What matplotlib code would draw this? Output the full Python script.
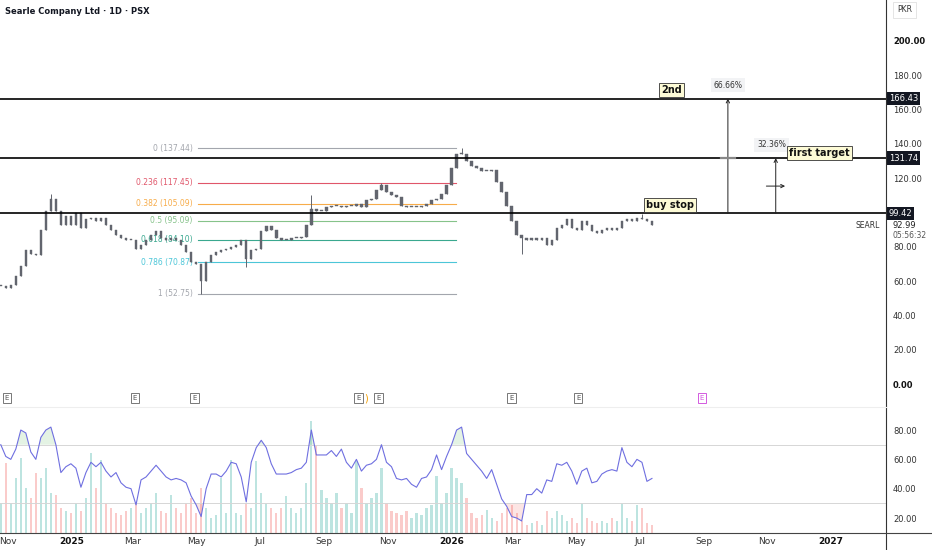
import numpy as np
import pandas as pd
import matplotlib
matplotlib.use('Agg')
import matplotlib.pyplot as plt
from matplotlib.transforms import blended_transform_factory

plt.rcParams['font.family'] = ['DejaVu Sans']

# price closes (roughly one value every ~5 days)
closes = [57, 56, 58, 63, 69, 78, 76, 75, 90, 101,
          108, 101, 93, 98, 93, 100, 91, 96, 97, 95,
          97, 93, 90, 87, 85, 84, 84, 79, 81, 84,
          87, 89, 85, 84, 85, 84, 81, 77, 71, 70,
          60, 71, 75, 77, 78, 79, 80, 81, 84, 73,
          78, 79, 89, 92, 90, 85, 84, 84, 85, 85,
          86, 93, 102, 101, 101, 103, 104, 104, 103, 104,
          104, 105, 103, 107, 108, 113, 116, 112, 110, 109,
          104, 103, 103, 103, 104, 105, 107, 108, 111, 116,
          126, 134, 134, 130, 127, 126, 124, 124, 125, 118,
          112, 104, 95, 87, 85, 84, 85, 84, 85, 81,
          84, 91, 93, 96, 91, 90, 95, 93, 89, 88,
          90, 91, 90, 91, 95, 96, 95, 97, 96, 95,
          93]
dates = pd.date_range('2024-10-25', '2026-07-13', periods=len(closes))
last_price = 92.99
last_time = '05:56:32'

# extreme wicks visible on the chart
wick_idx = [10, 40, 49, 62, 76, 92, 104, 128]
wick_val = [111, 52.75, 68, 110, 117.45, 137.44, 76, 99]

volume_k = [30, 70, 30, 55, 75, 45, 35, 60, 55, 65,
            40, 38, 25, 22, 20, 30, 22, 35, 80, 45,
            73, 30, 25, 20, 18, 22, 25, 30, 20, 25,
            30, 40, 22, 20, 38, 25, 20, 30, 35, 20,
            45, 25, 15, 18, 55, 20, 73, 20, 18, 30,
            25, 72, 40, 30, 25, 20, 25, 37, 25, 20,
            25, 50, 113, 87, 43, 35, 30, 40, 25, 30,
            20, 72, 45, 30, 35, 40, 65, 30, 22, 20,
            18, 22, 15, 20, 18, 25, 28, 57, 30, 40,
            65, 55, 50, 35, 20, 15, 18, 23, 15, 12,
            20, 25, 28, 20, 12, 8, 10, 12, 8, 22,
            15, 22, 18, 12, 15, 10, 29, 15, 12, 10,
            12, 10, 15, 12, 29, 15, 12, 28, 25, 10,
            8]

rsi = [70, 62, 60, 67, 80, 78, 65, 60, 75, 80,
       82, 70, 51, 55, 57, 54, 41, 51, 58, 55,
       58, 52, 48, 51, 44, 41, 40, 29, 46, 48,
       52, 56, 52, 48, 46, 47, 46, 44, 35, 29,
       21, 40, 50, 50, 48, 52, 58, 57, 48, 31,
       58, 68, 73, 68, 57, 50, 50, 50, 51, 53,
       54, 58, 80, 63, 63, 63, 66, 62, 67, 58,
       54, 60, 52, 56, 57, 60, 70, 58, 55, 47,
       46, 47, 43, 41, 47, 48, 53, 63, 53, 62,
       70, 80, 82, 64, 60, 56, 52, 47, 53, 43,
       33, 28, 21, 20, 18, 36, 36, 40, 37, 46,
       45, 57, 56, 58, 52, 43, 52, 54, 44, 45,
       50, 52, 53, 52, 68, 58, 55, 60, 58, 45,
       47]

fib_ratios = ['0', '0.236', '0.382', '0.5', '0.618', '0.786', '1']
fib_prices = [137.44, 117.45, 105.09, 95.09, 84.10, 70.87, 52.75]
fib_colors = ['#a3a6ad', '#e0566a', '#f7ac4a', '#86c38a', '#3aa88f', '#4cc6d8', '#a3a6ad']
fib_start = pd.Timestamp('2025-05-03')
fib_end = pd.Timestamp('2026-01-06')

levels = [166.43, 131.74, 99.42]
earnings = ['2024-10-31', '2025-03-03', '2025-04-29', '2025-10-04',
            '2025-10-23', '2026-02-28', '2026-05-03']
earnings_next = '2026-08-30'

month_ticks = ['2024-11-01', '2025-01-01', '2025-03-01', '2025-05-01', '2025-07-01',
               '2025-09-01', '2025-11-01', '2026-01-01', '2026-03-01', '2026-05-01',
               '2026-07-01', '2026-09-01', '2026-11-01', '2027-01-01']
month_labels = ['Nov', '2025', 'Mar', 'May', 'Jul', 'Sep', 'Nov',
                '2026', 'Mar', 'May', 'Jul', 'Sep', 'Nov', '2027']

W, H = 932, 550
fig = plt.figure(figsize=(W / 100, H / 100), dpi=100)
axis_x = 886 / W
main_rect = [0, (H - 407) / H, axis_x, 407 / H]
low_rect = [0, (H - 533) / H, axis_x, 126 / H]

ax = fig.add_axes(main_rect)
vax = fig.add_axes(low_rect)
rax = fig.add_axes(low_rect)
rax.patch.set_alpha(0)

xlim = (pd.Timestamp('2024-10-24 06:00'), pd.Timestamp('2027-02-23'))
for a in (ax, vax, rax):
    a.set_xlim(xlim)
    for s in a.spines.values():
        s.set_visible(False)
    a.tick_params(length=0)
    a.set_xticks([])

# candles
closes_a = np.array(closes, dtype=float)
opens = np.r_[closes_a[0], closes_a[:-1]]
highs = np.maximum(opens, closes_a)
lows = np.minimum(opens, closes_a)
for i, v in zip(wick_idx, wick_val):
    highs[i] = max(highs[i], v)
    lows[i] = min(lows[i], v)
candle_c = '#62656e'
ax.vlines(dates, lows, highs, color=candle_c, lw=0.7, zorder=3)
body = np.abs(closes_a - opens)
body = np.where(body < 0.6, 0.6, body)
ax.bar(dates, body, bottom=np.minimum(opens, closes_a), width=2.4,
       color=candle_c, edgecolor=candle_c, lw=0.3, zorder=3)

ax.set_ylim(-13.4, 223.9)

# fib retracement
for r, p, c in zip(fib_ratios, fib_prices, fib_colors):
    ax.plot([fib_start, fib_end], [p, p], color=c, lw=0.8, zorder=2)
    ax.annotate(f'{r} ({p:.2f})', xy=(fib_start, p), xytext=(-4, 0),
                textcoords='offset points', ha='right', va='center',
                fontsize=5.5, color=c, zorder=2)

# horizontal levels
for lv in levels:
    ax.axhline(lv, color='black', lw=1.2, zorder=4)

# targets / arrows
arr_kw = dict(arrowstyle='->', lw=0.7, color='#222', shrinkA=0, shrinkB=0, mutation_scale=6)
ax.annotate('', xy=(pd.Timestamp('2026-09-24'), levels[0]),
            xytext=(pd.Timestamp('2026-09-24'), levels[2]), arrowprops=arr_kw, zorder=5)
ax.annotate('', xy=(pd.Timestamp('2026-11-09'), levels[1]),
            xytext=(pd.Timestamp('2026-11-09'), levels[2]), arrowprops=arr_kw, zorder=5)
ax.annotate('', xy=(pd.Timestamp('2026-11-18'), 115.4),
            xytext=(pd.Timestamp('2026-10-31'), 115.4), arrowprops=arr_kw, zorder=5)
ax.plot([pd.Timestamp('2026-09-17'), pd.Timestamp('2026-10-01')], [levels[1], levels[1]],
        color='#888', lw=1.6, zorder=5)

pct_box = dict(boxstyle='square,pad=0.35', fc='#f2f3f5', ec='none')
ax.text(pd.Timestamp('2026-09-24'), 174.3, '66.66%', ha='center', va='center',
        fontsize=5.5, color='#333', bbox=pct_box, zorder=6)
ax.text(pd.Timestamp('2026-11-05'), 139.4, '32.36%', ha='center', va='center',
        fontsize=5.5, color='#333', bbox=pct_box, zorder=6)

note_box = dict(boxstyle='square,pad=0.2', fc='#fdfbd6', ec='#333', lw=0.6)
ax.text(pd.Timestamp('2026-08-01'), 171.4, '2nd', ha='center', va='center',
        fontsize=7, fontweight='bold', color='#111', bbox=note_box, zorder=6)
ax.text(pd.Timestamp('2026-11-22'), 134.8, 'first target', ha='left', va='center',
        fontsize=7, fontweight='bold', color='#111', bbox=note_box, zorder=6)
ax.text(pd.Timestamp('2026-07-30'), 104.2, 'buy stop', ha='center', va='center',
        fontsize=7, fontweight='bold', color='#111', bbox=note_box, zorder=6)

# earnings markers
bt = blended_transform_factory(ax.transData, ax.transAxes)
e_box = dict(boxstyle='square,pad=0.3', fc='white', ec='#777', lw=0.7)
for d in earnings:
    ax.text(pd.Timestamp(d), 0.022, 'E', transform=bt, ha='center', va='center',
            fontsize=5, color='#555', bbox=e_box, zorder=6)
ax.text(pd.Timestamp('2025-10-11'), 0.022, ')', transform=bt, ha='center', va='center',
        fontsize=7, color='#f59f00', zorder=6)
ax.text(pd.Timestamp(earnings_next), 0.022, 'E', transform=bt, ha='center', va='center',
        fontsize=5, color='#d35ae0',
        bbox=dict(boxstyle='square,pad=0.3', fc='white', ec='#d35ae0', lw=0.7), zorder=6)

# right price axis (100.00 sits under the 99.42 label)
ax.yaxis.tick_right()
pticks = [0, 20, 40, 60, 80, 120, 140, 160, 180, 200]
ax.set_yticks(pticks)
ax.set_yticklabels([f'{v:.2f}' for v in pticks])
ax.tick_params(axis='y', length=0, pad=5, labelsize=6, labelcolor='#333')
for lab in ax.get_yticklabels():
    if lab.get_text() in ('200.00', '0.00'):
        lab.set_fontweight('bold')
        lab.set_color('#111')

rt = blended_transform_factory(ax.transAxes, ax.transData)
for lv in levels:
    ax.text(1.003, lv, f'{lv:.2f}', transform=rt, ha='left', va='center',
            fontsize=6, color='white', clip_on=False, zorder=10,
            bbox=dict(boxstyle='square,pad=0.25', fc='#131722', ec='none'))
ax.text(1.007, 92.6, f'{last_price:.2f}', transform=rt,
        ha='left', va='center', fontsize=6, color='#222', clip_on=False, zorder=10)
ax.text(1.007, 86.8, last_time, transform=rt, ha='left', va='center',
        fontsize=5.5, color='#555', clip_on=False, zorder=10)
ax.text(0.993, 92.6, 'SEARL', transform=rt, ha='right', va='center',
        fontsize=5.5, color='#333', zorder=10)

# volume
vcol = ['#26a69a' if c >= o else '#ef5350' for o, c in zip(opens, closes_a)]
vax.bar(dates, volume_k, width=2.2, color=vcol, alpha=0.3, lw=0)
vax.set_ylim(0, max(volume_k) * 1.12)
vax.set_yticks([])

# RSI
rsi_a = np.array(rsi, dtype=float)
rax.axhline(70, color='#d6d6d6', lw=0.7)
rax.axhline(30, color='#d6d6d6', lw=0.7)
rax.fill_between(dates, 70, rsi_a, where=rsi_a > 70, interpolate=True,
                 color='#4caf50', alpha=0.15, lw=0)
rax.fill_between(dates, 30, rsi_a, where=rsi_a < 30, interpolate=True,
                 color='#ef5350', alpha=0.15, lw=0)
rax.plot(dates, rsi_a, color='#6f6fe0', lw=0.8)
rax.set_ylim(9.8, 95.7)
rax.yaxis.tick_right()
rax.set_yticks([20, 40, 60, 80])
rax.set_yticklabels(['20.00', '40.00', '60.00', '80.00'])
rax.tick_params(axis='y', length=0, pad=5, labelsize=6, labelcolor='#333')

rax.set_xticks(pd.to_datetime(month_ticks))
rax.set_xticklabels(month_labels)
rax.tick_params(axis='x', length=0, pad=3, labelsize=6.5, labelcolor='#333')
for lab in rax.get_xticklabels():
    if lab.get_text().isdigit():
        lab.set_fontweight('bold')
        lab.set_color('#111')

# frame lines
fig.add_artist(plt.Line2D([axis_x, axis_x], [0, 1], color='#333', lw=0.8))
fig.add_artist(plt.Line2D([0, 1], [(H - 533) / H] * 2, color='#444', lw=0.8))
fig.add_artist(plt.Line2D([0, axis_x], [(H - 407) / H] * 2, color='#eeeeee', lw=0.8))

fig.text(5 / W, 1 - 12 / H, 'Searle Company Ltd · 1D · PSX', fontsize=6,
         fontweight='bold', color='#131722', va='center')
fig.text(897 / W, 1 - 10 / H, 'PKR', fontsize=5.5, color='#333', va='center',
         bbox=dict(boxstyle='square,pad=0.5', fc='white', ec='#e0e0e0', lw=0.6))

fig.savefig('out.png', dpi=100)
